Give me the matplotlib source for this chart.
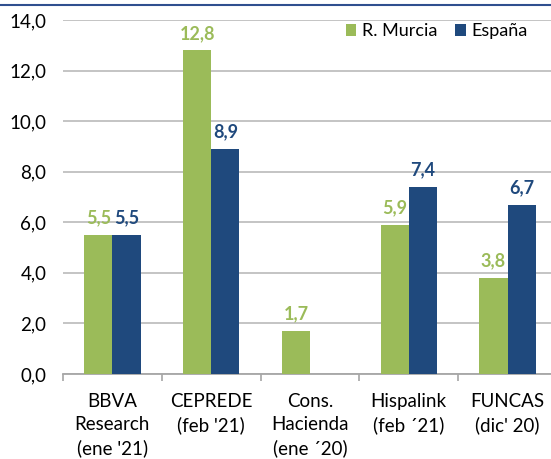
import numpy as np
import matplotlib.pyplot as plt
from matplotlib.lines import Line2D

plt.rcParams['font.family'] = ['Lato', 'DejaVu Sans']

# Datos
categorias = ["BBVA\nResearch\n(ene '21)", "CEPREDE\n(feb '21)", "Cons.\nHacienda\n(ene \u00b420)",
              "Hispalink\n(feb \u00b421)", "FUNCAS\n(dic' 20)"]
murcia = [5.5, 12.8, 1.7, 5.9, 3.8]
espana = [5.5, 8.9, np.nan, 7.4, 6.7]
series = ["R. Murcia", "Espa\u00f1a"]

verde = "#9BBB59"
azul = "#1F497D"

fig = plt.figure(figsize=(5.51, 4.59), dpi=100)
ax = fig.add_axes([63 / 551, 1 - 374 / 459, 494 / 551, 354 / 459])

x = np.arange(len(categorias))
ancho = 0.285
b1 = ax.bar(x - ancho / 2, murcia, ancho, color=verde, label=series[0], zorder=3)
b2 = ax.bar(x + ancho / 2, espana, ancho, color=azul, label=series[1], zorder=3)

def etiquetas(vals):
    return ["" if np.isnan(v) else f"{v:.1f}".replace(".", ",") for v in vals]

ax.bar_label(b1, labels=etiquetas(murcia), padding=6, color=verde, fontsize=13, fontweight="bold")
ax.bar_label(b2, labels=etiquetas(espana), padding=6, color=azul, fontsize=13, fontweight="bold")

ax.set_ylim(0, 14)
ax.set_xlim(-0.5, 4.5)
ax.set_yticks(np.arange(0, 15, 2))
ax.set_yticklabels([f"{v:.1f}".replace(".", ",") for v in np.arange(0, 15, 2)], fontsize=13.5)
ax.yaxis.grid(True, color="#BFBFBF", linewidth=1.3, zorder=0)
ax.tick_params(axis="y", length=0, pad=12)

ax.set_xticks(x)
ax.set_xticklabels(categorias, fontsize=13.5, linespacing=1.4)
ax.set_xticks(np.arange(-0.5, 5, 1), minor=True)
ax.tick_params(axis="x", which="major", length=0, pad=14)
ax.tick_params(axis="x", which="minor", length=5, color="#A6A6A6", width=1.2)

for lado in ["left", "right", "top"]:
    ax.spines[lado].set_visible(False)
ax.spines["bottom"].set_color("#A6A6A6")
ax.spines["bottom"].set_linewidth(1.3)

ax.legend(loc="upper right", bbox_to_anchor=(535 / 551, 1 - 16 / 459), bbox_transform=fig.transFigure,
          ncol=2, frameon=False, fontsize=13, handlelength=0.6, handleheight=0.6,
          handletextpad=0.3, columnspacing=1.0, borderaxespad=0)

fig.add_artist(Line2D([0, 1], [1 - 5 / 459, 1 - 5 / 459], color="#2F4F8F", linewidth=1.5))

plt.savefig("out.png", dpi=100)
